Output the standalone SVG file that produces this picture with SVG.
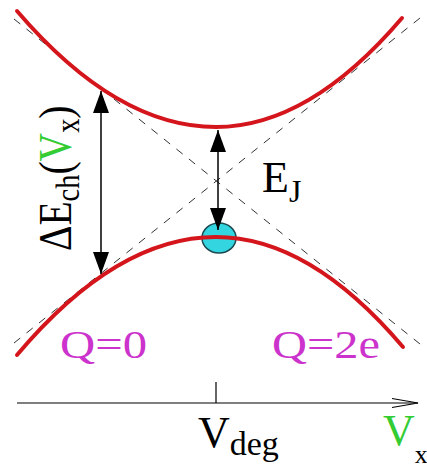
<svg xmlns="http://www.w3.org/2000/svg" width="427" height="469" viewBox="0 0 427 469">
<style>
.curve{fill:none;stroke:#d4161c;stroke-width:4;stroke-linecap:round}
.dash{fill:none;stroke:#333;stroke-width:1;stroke-dasharray:8 8}
.arr{fill:none;stroke:#000;stroke-width:1.5}
.axis{fill:none;stroke:#000;stroke-width:1.2}
.t{font-family:"Liberation Serif","Times New Roman",serif;fill:#000}
.mag{fill:#cc33cc}
.grn{fill:#33cc33}
</style>
<defs>
<marker id="ah" viewBox="0 0 22 16" refX="22" refY="8" markerWidth="22" markerHeight="16" markerUnits="userSpaceOnUse" orient="auto-start-reverse">
<path d="M0,0 L22,8 L0,16 Z" fill="#000"/>
</marker>
</defs>
<g id="asymptotes">
<line class="dash" x1="14" y1="19" x2="420" y2="344"/>
<line class="dash" x1="14" y1="343" x2="420" y2="18"/>
</g>
<g id="ball">
<ellipse cx="219" cy="238" rx="17" ry="15" fill="#33d6e0" stroke="#1a4a50" stroke-width="1.5"/>
</g>
<g id="upper-band">
<path class="curve" d="M17,11 Q116.5,127 216,127 Q309,127 402,18"/>
</g>
<g id="lower-band">
<path class="curve" d="M17,355 Q116.5,237 216,237 Q309.5,237 403,347"/>
</g>
<g id="connectors">
<line class="arr" x1="101" y1="91" x2="101" y2="274" marker-start="url(#ah)" marker-end="url(#ah)"/>
<line class="arr" x1="218" y1="130" x2="218" y2="230" marker-start="url(#ah)" marker-end="url(#ah)"/>
<line class="axis" x1="17" y1="403" x2="418" y2="403"/>
<polyline class="axis" points="392,398.5 418,403 392,407.5"/>
<line class="axis" x1="216" y1="382" x2="216" y2="403"/>
</g>
<g id="label-dEch">
<text class="t" font-size="46" transform="translate(71,251) rotate(-90) scale(0.86,1)">ΔE<tspan font-size="33" dy="8">ch</tspan><tspan dy="-8">(</tspan><tspan class="grn">V</tspan><tspan font-size="33" dy="8">x</tspan><tspan dy="-8">)</tspan></text>
</g>
<g id="label-EJ">
<text class="t" x="262" y="192" font-size="44">E<tspan font-size="32" dy="10">J</tspan></text>
</g>
<g id="label-Q0">
<text class="t mag" x="60" y="358" font-size="40" textLength="87" lengthAdjust="spacingAndGlyphs">Q=0</text>
</g>
<g id="label-Q2e">
<text class="t mag" x="272" y="358" font-size="40" textLength="108" lengthAdjust="spacingAndGlyphs">Q=2e</text>
</g>
<g id="label-Vdeg">
<text class="t" x="198" y="447" font-size="44">V<tspan font-size="34" dy="8">deg</tspan></text>
</g>
<g id="label-Vx">
<text class="t" x="383" y="445" font-size="44"><tspan class="grn">V</tspan><tspan font-size="26" dy="18">x</tspan></text>
</g>
</svg>
